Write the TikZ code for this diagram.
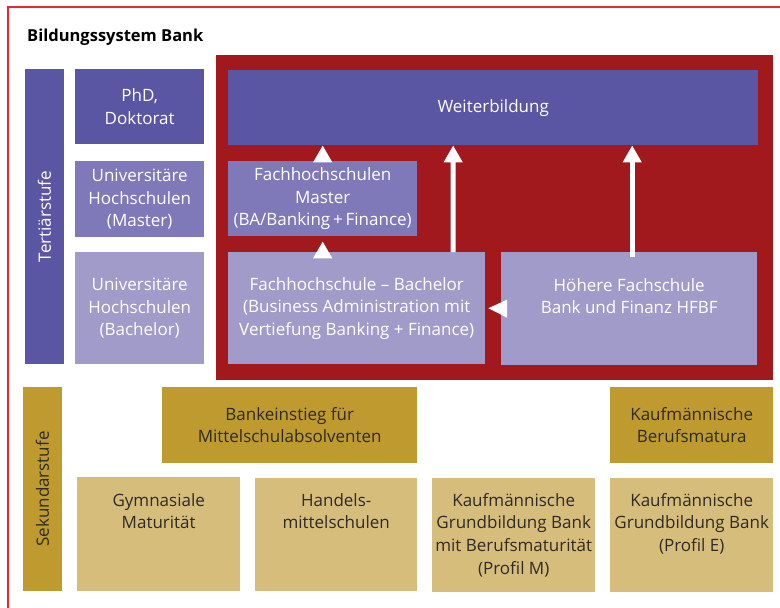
\documentclass[tikz,border=0pt]{standalone}
\usepackage{fontspec}
\setmainfont{Open Sans}
\usetikzlibrary{arrows.meta,calc}
\definecolor{framered}{HTML}{E8262B}
\definecolor{bankred}{HTML}{A1181D}
\definecolor{dpurple}{HTML}{5B56A3}
\definecolor{mpurple}{HTML}{8079B9}
\definecolor{lpurple}{HTML}{A19BCA}
\definecolor{dgold}{HTML}{BF9A2F}
\definecolor{lgold}{HTML}{D7BD7B}
\definecolor{dtext}{HTML}{2E2B26}

\tikzset{
    box/.style={rectangle, inner sep=0pt, align=center, anchor=north west,
        font=\fontsize{17}{22.6}\selectfont},
    darkbox/.style={box, fill=dpurple, text=white},
    midbox/.style={box, fill=mpurple, text=white},
    lightbox/.style={box, fill=lpurple, text=white},
    goldbar/.style={box, fill=dgold, text=dtext},
    goldbox/.style={box, fill=lgold, text=dtext},
    toplabel/.style={anchor=north, inner sep=0pt, align=center,
        font=\fontsize{17}{22.6}\selectfont},
    wtip/.style={white, line width=5pt, -{Triangle[width=18pt,length=17pt]}}
}

\begin{document}
\begin{tikzpicture}[x=1pt,y=-1pt]
    \clip (0,0) rectangle (780,608);
    \fill[white] (0,0) rectangle (780,608);
    \draw[framered, line width=2pt] (7.5,6.5) rectangle (800,630);
    \node[anchor=west, inner sep=0pt, font=\fontsize{16.5}{18}\selectfont\bfseries] (title) at (27,37) {Bildungssystem Bank};

    % Tertiaerstufe
    \node[darkbox, rotate=90, anchor=center, minimum width=295, minimum height=39] (tert) at (44.5,216.5) {Terti\"arstufe};
    \node[darkbox, minimum width=129, minimum height=75] (phd) at (75,69) {PhD,\\Doktorat};
    \node[midbox, minimum width=129, minimum height=76] (unim) at (75,161) {Universit\"are\\Hochschulen\\(Master)};
    \node[lightbox, minimum width=129, minimum height=112] (unib) at (75,252) {Universit\"are\\Hochschulen\\(Bachelor)};

    \node[box, fill=bankred, minimum width=557, minimum height=325] (red) at (216,55) {};
    \node[darkbox, minimum width=530, minimum height=75] (weiter) at (228,70) {Weiterbildung};
    \node[midbox, minimum width=189, minimum height=75] (fhm) at (228,161) {Fachhochschulen\\Master\\(BA/Banking\,+\,Finance)};
    \node[lightbox, minimum width=257, minimum height=112] (bach) at (228,252) {Fachhochschule -- Bachelor\\(Business Administration mit\\Vertiefung Banking + Finance)};
    \node[lightbox, minimum width=256, minimum height=113,
        label={[toplabel, text=white, yshift=-26pt]north:H\"ohere Fachschule\\Bank und Finanz HFBF}] (hfbf) at (501,252) {};

    % Sekundarstufe
    \node[goldbar, rotate=90, anchor=center, minimum width=204, minimum height=39] (sek) at (42.5,489) {Sekundarstufe};
    \node[goldbar, minimum width=255, minimum height=76] (bank) at (162,387) {Bankeinstieg f\"ur\\Mittelschulabsolventen};
    \node[goldbar, minimum width=163, minimum height=76] (kbm) at (610,387) {Kaufm\"annische\\Berufsmatura};
    \node[goldbox, minimum width=163, minimum height=114,
        label={[toplabel, text=dtext, yshift=-16pt]north:Gymnasiale\\Maturit\"at}] (gym) at (77,477) {};
    \node[goldbox, minimum width=162, minimum height=113,
        label={[toplabel, text=dtext, yshift=-15pt]north:Handels-\\mittelschulen}] (hand) at (255,478) {};
    \node[goldbox, minimum width=163, minimum height=114,
        label={[toplabel, text=dtext, yshift=-15pt]north:Kaufm\"annische\\Grundbildung Bank\\mit Berufsmaturit\"at\\(Profil M)}] (kfm) at (432,478) {};
    \node[goldbox, minimum width=163, minimum height=114,
        label={[toplabel, text=dtext, yshift=-15pt]north:Kaufm\"annische\\Grundbildung Bank\\(Profil E)}] (kfe) at (610,478) {};

    % arrows
    \draw[wtip] ([yshift=-1pt]fhm.north) -- (fhm.north |- weiter.south);
    \draw[wtip] ($(fhm.south |- bach.north)+(0,6)$) -- ($(fhm.south)+(0,5)$);
    \draw[wtip] ($(bach.north west)!0.875!(bach.north east)$) -- ($(weiter.south west)!0.4245!(weiter.south east)$);
    \draw[wtip] ($(hfbf.north)+(3,5)$) -- ($(hfbf.north |- weiter.south)+(3,0)$);
    \fill[white] ($(bach.east)+(3,0)$) -- ($(hfbf.west)+(6,-9)$) -- ($(hfbf.west)+(6,9)$) -- cycle;
\end{tikzpicture}
\end{document}
